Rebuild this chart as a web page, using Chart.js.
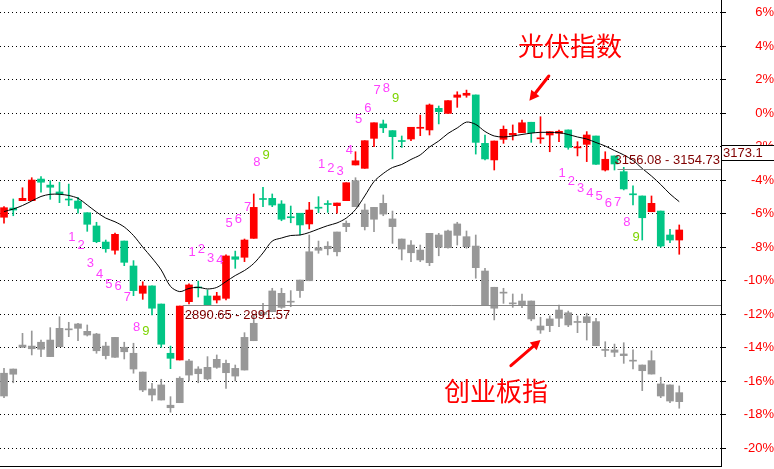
<!DOCTYPE html>
<html lang="zh-CN">
<head>
<meta charset="UTF-8">
<title>光伏指数 / 创业板指</title>
<script src="https://cdn.jsdelivr.net/npm/chart.js"></script>
<style>
    html, body { margin: 0; padding: 0; background: #fff; }
    #wrap { width: 774px; height: 469px; position: relative; }
</style>
</head>
<body>
<div id="wrap"><canvas id="chart"></canvas></div>
<script>
// 涨跌幅 (%) — 光伏指数
const gfOpen  = [-6.21,-5.66,-5.22,-5.22,-3.93,-4.29,-4.70,-5.12,-5.24,-5.94,
                 -6.73,-7.69,-8.18,-7.63,-9.12,-10.75,-10.31,-11.39,-14.33,-14.73,
                 -11.25,-10.37,-10.91,-11.15,-11.05,-8.57,-8.60,-7.47,-5.09,-5.08,
                 -5.42,-6.18,-5.97,-6.61,-5.61,-5.39,-5.52,-5.22,-3.09,-3.29,
                 -1.50,-0.64,-1.04,-1.63,-1.54,-0.90,-1.00,0.29,-0.01,0.95,
                 1.07,1.09,-1.80,-2.79,-1.56,-1.30,-1.16,-0.54,-1.53,-1.30,
                 -1.20,-1.00,-2.07,-1.86,-1.36,-3.39,-2.55,-3.49,-4.81,-4.94,
                 -5.88,-5.84,-7.27,-7.57];
const gfHigh  = [-5.58,-5.12,-4.45,-3.85,-3.79,-4.03,-4.12,-4.23,-5.02,-5.94,
                 -6.51,-7.57,-7.15,-7.63,-8.80,-10.06,-10.31,-11.39,-13.90,-11.51,
                 -10.19,-10.02,-10.55,-10.69,-8.46,-8.23,-7.51,-4.82,-4.42,-4.82,
                 -5.22,-5.54,-5.97,-5.32,-4.98,-5.22,-5.36,-4.15,-2.30,-1.64,
                 -0.57,-0.41,-1.04,-1.36,-0.84,-0.11,0.55,0.43,0.75,1.28,
                 1.38,1.09,-1.30,-1.66,-0.76,-0.70,-0.41,-0.54,-0.21,-1.10,
                 -1.00,-1.00,-1.70,-1.10,-1.36,-2.30,-2.55,-3.23,-4.33,-4.94,
                 -4.94,-5.84,-6.93,-6.67];
const gfLow   = [-6.57,-6.12,-5.22,-5.22,-4.72,-5.14,-5.34,-5.52,-5.97,-7.05,
                 -7.73,-8.30,-8.42,-9.10,-10.89,-11.11,-12.04,-13.97,-15.25,-14.73,
                 -11.39,-10.97,-11.45,-11.33,-11.15,-9.26,-8.86,-7.47,-5.58,-5.58,
                 -6.42,-6.54,-7.27,-6.91,-5.94,-5.92,-5.97,-5.22,-3.09,-3.29,
                 -2.00,-1.16,-2.73,-2.04,-1.64,-1.34,-1.30,-0.64,-0.01,0.35,
                 0.95,-2.44,-2.79,-3.39,-1.80,-1.60,-1.16,-1.74,-1.80,-2.30,
                 -1.70,-2.15,-2.55,-2.89,-3.05,-3.45,-3.39,-4.58,-5.48,-7.57,
                 -5.88,-8.00,-7.73,-8.42];
const gfClose = [-5.64,-5.78,-5.08,-3.99,-4.12,-4.42,-4.82,-5.16,-5.68,-6.63,
                 -7.67,-8.09,-7.23,-8.90,-10.59,-10.31,-11.64,-13.79,-14.63,-11.51,
                 -10.25,-10.43,-11.45,-10.91,-8.52,-8.72,-7.57,-5.62,-5.15,-5.48,
                 -6.33,-6.24,-6.67,-5.78,-5.67,-5.45,-5.36,-4.15,-2.84,-1.64,
                 -0.57,-0.87,-1.40,-1.69,-0.84,-0.84,0.49,0.09,0.75,1.09,
                 1.19,-1.74,-2.73,-1.66,-0.96,-1.20,-0.57,-1.16,-1.47,-1.10,
                 -1.08,-2.04,-2.01,-1.30,-3.05,-2.75,-3.03,-4.52,-4.87,-6.24,
                 -5.38,-7.93,-7.57,-6.97];
// 光伏指数均线
const gfMa    = [-5.87,-5.72,-5.51,-5.24,-4.97,-4.84,-4.84,-4.91,-5.08,-5.48,
                 -5.90,-6.26,-6.48,-6.79,-7.30,-7.99,-8.64,-9.36,-10.34,-10.65,
                 -10.46,-10.39,-10.49,-10.40,-10.05,-9.69,-9.39,-8.97,-8.34,-7.63,
                 -7.45,-7.30,-7.27,-7.12,-6.91,-6.71,-6.55,-6.26,-5.75,-4.94,
                 -4.08,-3.60,-3.24,-3.06,-2.76,-2.49,-2.02,-1.66,-1.21,-0.88,
                 -0.53,-0.67,-1.09,-1.36,-1.42,-1.36,-1.27,-1.19,-1.14,-1.15,
                 -1.16,-1.27,-1.42,-1.54,-1.75,-1.96,-2.23,-2.49,-2.82,-3.30,
                 -3.75,-4.26,-4.82,-5.28];

// 涨跌幅 (%) — 创业板指
const cyOpen  = [-15.52,-15.27,-13.84,-13.90,-13.67,-13.54,-12.84,-12.87,-12.58,-13.02,
                 -13.18,-13.90,-13.38,-13.97,-14.33,-15.45,-16.46,-16.22,-17.43,-15.82,
                 -14.79,-15.27,-15.17,-14.69,-14.93,-15.23,-13.38,-12.54,-11.88,-10.61,
                 -10.75,-11.22,-9.96,-8.27,-8.03,-7.94,-7.09,-6.57,-4.03,-5.78,
                 -5.62,-5.38,-6.31,-7.51,-7.87,-8.17,-7.17,-7.27,-7.03,-6.61,
                 -7.37,-7.93,-9.42,-10.39,-10.68,-11.32,-11.21,-11.21,-12.70,-12.28,
                 -11.75,-11.91,-12.43,-12.15,-12.44,-14.10,-14.13,-14.37,-14.74,-15.03,
                 -14.77,-16.16,-16.22,-16.68];
const cyHigh  = [-15.23,-15.27,-13.14,-13.00,-13.54,-12.80,-12.15,-12.48,-12.54,-12.64,
                 -13.14,-13.67,-13.38,-13.67,-13.73,-15.45,-16.12,-15.88,-16.92,-15.73,
                 -14.69,-15.13,-14.53,-14.43,-14.73,-15.03,-13.10,-12.04,-11.35,-10.45,
                 -10.45,-10.59,-9.96,-7.27,-7.63,-7.67,-7.09,-6.43,-3.85,-5.42,
                 -5.62,-4.88,-5.84,-7.51,-7.61,-7.87,-7.17,-7.17,-6.97,-6.51,
                 -7.03,-7.27,-9.26,-10.39,-10.45,-10.79,-10.79,-11.21,-12.18,-12.10,
                 -11.45,-11.81,-12.10,-11.94,-12.24,-13.64,-13.78,-13.70,-14.13,-15.03,
                 -14.18,-15.76,-16.22,-16.28];
const cyLow   = [-16.98,-16.09,-13.97,-14.43,-14.53,-14.53,-13.94,-13.34,-13.58,-13.30,
                 -14.33,-14.67,-14.57,-14.67,-15.52,-16.62,-17.18,-17.12,-17.85,-17.28,
                 -15.97,-16.09,-15.92,-15.23,-16.42,-15.98,-15.33,-13.58,-12.15,-11.85,
                 -11.65,-11.55,-10.99,-10.00,-8.36,-8.46,-8.52,-7.07,-5.58,-6.97,
                 -7.07,-6.12,-7.77,-8.76,-8.86,-8.86,-9.10,-8.51,-8.05,-7.87,
                 -8.06,-9.85,-11.45,-12.34,-11.35,-11.59,-11.61,-12.39,-13.14,-13.04,
                 -12.74,-12.74,-13.10,-13.54,-13.88,-14.53,-14.53,-14.93,-15.27,-16.56,
                 -15.57,-16.98,-17.28,-17.61];
const cyClose = [-16.88,-15.58,-13.97,-14.06,-14.09,-14.53,-13.94,-12.93,-12.84,-13.24,
                 -14.18,-14.47,-14.57,-14.24,-15.27,-16.52,-16.82,-17.12,-17.58,-17.28,
                 -15.63,-15.55,-15.86,-15.17,-15.49,-15.69,-15.33,-13.58,-12.00,-11.85,
                 -11.59,-11.28,-10.59,-10.00,-8.18,-8.09,-8.27,-6.77,-5.58,-6.77,
                 -6.33,-6.02,-6.77,-8.11,-8.33,-8.76,-8.92,-8.00,-8.03,-7.29,
                 -7.97,-9.22,-11.45,-11.64,-10.74,-11.38,-11.45,-12.28,-12.94,-12.68,
                 -12.24,-12.64,-12.49,-12.50,-13.88,-14.16,-14.27,-14.47,-14.80,-15.37,
                 -15.57,-16.88,-17.18,-17.22];

const yTicks = [6, 4, 2, 0, -2, -4, -6, -8, -10, -12, -14, -16, -18, -20];

// 九转序列起点 (第1根K线的序号)
const tdBuyStarts  = [7, 60];
const tdSellStarts = [20, 34];

// 区间标注线
const levels = [
    { from: 19, value: -11.45, text: '2890.65 - 2891.57' },
    { from: 66, value: -3.33,  text: '3156.08 - 3154.73' },
];
const tagPrice = 3173.1;
const tagPct = -2.81;

// 文字标注, 坐标为 [K线序号, 涨跌幅]
const notes = [
    { text: '光伏指数', at: [61.2, 4.01],   from: [58.9, 2.22],   to: [56.8, 0.75] },
    { text: '创业板指', at: [53.2, -16.58], from: [54.8, -15.07], to: [58.0, -13.54] },
];

const RED = '#ff0000';
const GREEN = '#02c585';
const GRAY = '#989898';

const idx = gfOpen.map((_, i) => i);
const gfColor = i => gfClose[i] >= gfOpen[i] ? RED : GREEN;

const overlay = {
    id: 'overlay',
    afterDatasetsDraw(chart) {
        const { ctx, chartArea: a, scales: { x, y } } = chart;
        ctx.save();
        ctx.beginPath();
        ctx.rect(a.left, a.top, a.right - a.left, a.bottom - a.top);
        ctx.clip();

        // 区间线 + 数值
        ctx.font = '13px Arial';
        ctx.textBaseline = 'middle';
        ctx.textAlign = 'left';
        levels.forEach((lv, k) => {
            const px = x.getPixelForValue(lv.from) + 3;
            const py = Math.round(y.getPixelForValue(lv.value)) + 0.5;
            ctx.strokeStyle = '#888';
            ctx.lineWidth = 1;
            ctx.beginPath();
            ctx.moveTo(px, py);
            ctx.lineTo(a.right, py);
            ctx.stroke();
            let tx = px + 2;
            const w = ctx.measureText(lv.text).width;
            if (tx + w > a.right - 1) tx = a.right - 1 - w;
            ctx.fillStyle = '#800000';
            ctx.fillText(lv.text, tx, k === 0 ? py + 10 : py - 9);
        });

        // 九转计数
        ctx.font = '13px Arial';
        ctx.textAlign = 'center';
        const drawCount = (start, below) => {
            for (let k = 0; k < 9; k++) {
                const i = start + k;
                const px = x.getPixelForValue(i) + 3;
                const py = below ? y.getPixelForValue(gfLow[i]) + 32 : y.getPixelForValue(gfHigh[i]) - 32;
                ctx.fillStyle = k === 8 ? '#7cd400' : '#ff40ff';
                ctx.fillText(String(k + 1), px, py);
            }
        };
        tdBuyStarts.forEach(s => drawCount(s, true));
        tdSellStarts.forEach(s => drawCount(s, false));

        // 文字 + 箭头
        notes.forEach(n => {
            ctx.fillStyle = RED;
            ctx.font = '26px "Noto Sans CJK SC"';
            ctx.textAlign = 'center';
            ctx.textBaseline = 'middle';
            ctx.fillText(n.text, x.getPixelForValue(n.at[0]), y.getPixelForValue(n.at[1]));

            const x1 = x.getPixelForValue(n.from[0]), y1 = y.getPixelForValue(n.from[1]);
            const x2 = x.getPixelForValue(n.to[0]), y2 = y.getPixelForValue(n.to[1]);
            const ang = Math.atan2(y2 - y1, x2 - x1);
            const head = 11;
            ctx.strokeStyle = RED;
            ctx.lineWidth = 3;
            ctx.lineCap = 'round';
            ctx.beginPath();
            ctx.moveTo(x1, y1);
            ctx.lineTo(x2 - head * 0.6 * Math.cos(ang), y2 - head * 0.6 * Math.sin(ang));
            ctx.stroke();
            ctx.beginPath();
            ctx.moveTo(x2, y2);
            ctx.lineTo(x2 - head * Math.cos(ang - 0.5), y2 - head * Math.sin(ang - 0.5));
            ctx.lineTo(x2 - head * Math.cos(ang + 0.5), y2 - head * Math.sin(ang + 0.5));
            ctx.closePath();
            ctx.fill();
        });
        ctx.restore();
    },
    afterDraw(chart) {
        const { ctx, chartArea: a, scales: { y } } = chart;
        const by = Math.round(y.getPixelForValue(tagPct)) + 0.5;
        const top = by - 15;
        ctx.save();
        ctx.fillStyle = '#fff';
        ctx.fillRect(a.right + 1, top, chart.width - a.right, 15);
        ctx.strokeStyle = '#000';
        ctx.lineWidth = 1;
        ctx.beginPath();
        ctx.moveTo(a.right, top); ctx.lineTo(chart.width, top);
        ctx.moveTo(a.right, by); ctx.lineTo(chart.width, by);
        ctx.stroke();
        ctx.fillStyle = '#800000';
        ctx.font = '13px Arial';
        ctx.textAlign = 'left';
        ctx.textBaseline = 'middle';
        ctx.fillText(tagPrice.toFixed(1), a.right + 2, top + 8);
        ctx.restore();
    }
};

new Chart(document.getElementById('chart'), {
    type: 'bar',
    data: {
        datasets: [
            {
                type: 'line',
                label: '均线',
                data: idx.map(i => ({ x: i, y: gfMa[i] })),
                borderColor: '#000',
                borderWidth: 1,
                pointRadius: 0,
                tension: 0.3,
                order: 0
            },
            {
                label: '光伏指数',
                data: idx.map(i => ({ x: i, y: [gfOpen[i], gfClose[i]] })),
                backgroundColor: c => gfColor(c.dataIndex),
                barThickness: 7,
                minBarLength: 1,
                grouped: false,
                order: 1
            },
            {
                label: '光伏指数影线',
                data: idx.map(i => ({ x: i, y: [gfLow[i], gfHigh[i]] })),
                backgroundColor: c => gfColor(c.dataIndex),
                barThickness: 1,
                grouped: false,
                order: 2
            },
            {
                label: '创业板指',
                data: idx.map(i => ({ x: i, y: [cyOpen[i], cyClose[i]] })),
                backgroundColor: GRAY,
                barThickness: 7,
                minBarLength: 1,
                grouped: false,
                order: 3
            },
            {
                label: '创业板指影线',
                data: idx.map(i => ({ x: i, y: [cyLow[i], cyHigh[i]] })),
                backgroundColor: GRAY,
                barThickness: 1,
                grouped: false,
                order: 4
            }
        ]
    },
    options: {
        animation: false,
        responsive: true,
        maintainAspectRatio: false,
        layout: { padding: { left: 0, top: 0, right: 0, bottom: 3 } },
        plugins: { legend: { display: false }, tooltip: { enabled: false } },
        scales: {
            x: {
                type: 'linear',
                min: -0.4324,
                max: 77.514,
                offset: false,
                ticks: { display: false },
                grid: { display: false, drawTicks: false },
                border: { display: true, color: '#000', width: 1 }
            },
            y: {
                position: 'right',
                min: -21.058,
                max: 6.757,
                afterBuildTicks: axis => { axis.ticks = yTicks.map(v => ({ value: v })); },
                afterFit: axis => {
                    axis.width = 53;
                    axis.paddingTop = 0;
                    axis.paddingBottom = 0;
                },
                ticks: {
                    color: RED,
                    font: { family: 'Arial', size: 13 },
                    padding: 12,
                    crossAlign: 'far',
                    callback: v => v + '%'
                },
                grid: { color: '#000', lineWidth: 1, tickColor: '#000', tickLength: 5, tickBorderDash: [] },
                border: { display: true, color: '#000', width: 1, dash: [1, 3] }
            }
        }
    },
    plugins: [overlay]
});
</script>
</body>
</html>
